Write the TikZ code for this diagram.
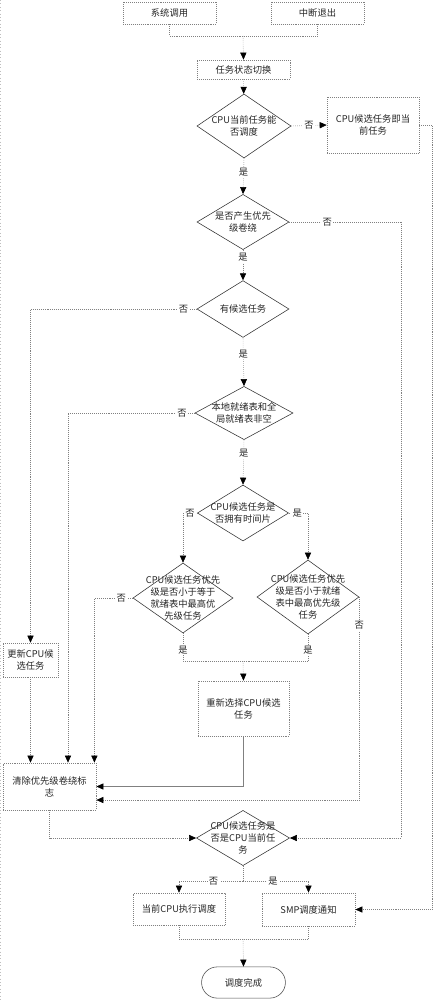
\documentclass[tikz,border=0pt]{standalone}
\usepackage{fontspec}
\setmainfont{Noto Sans CJK SC}
\usetikzlibrary{shapes.geometric, shapes.misc, arrows.meta, positioning, calc}

\begin{document}
\begin{tikzpicture}[
    x=0.025cm, y=-0.025cm,
    font=\fontsize{6.6pt}{8.6pt}\selectfont,
    box/.style={rectangle, draw=gray, densely dotted, minimum width=2.33cm, minimum height=0.55cm, align=center, text=black!85, inner sep=1pt},
    dec/.style={diamond, draw=black!80, solid, inner sep=0pt, minimum width=2.3cm, minimum height=1.4cm},
    txt/.style={align=center, text=black!85},
    term/.style={rounded rectangle, draw=black!70, minimum width=2.33cm, minimum height=0.78cm, text=black!85},
    lbl/.style={fill=white, inner sep=1pt, text=black!85},
    conn/.style={draw=gray, densely dotted},
    arr/.style={conn, -{Triangle[length=5pt, width=4.4pt, color=black]}}
]
\useasboundingbox (0,0) rectangle (435,1000);
\draw[gray!50, dotted] (0.5,0) -- (0.5,1000);

% Entry
\node[box] (sys) at (169.5,13) {系统调用};
\node[box] (irq) at (317.5,13) {中断退出};
\node[box, minimum height=0.48cm] (sw) at (243.5,69.5) {任务状态切换};

% Main checks
\node[dec, minimum width=2.35cm, minimum height=1.6cm, label={[txt]center:{CPU当前任务能\\否调度}}] (d1) at (244,126) {};
\node[box, minimum width=2.3cm, minimum height=1.4cm] (cur) at (373,125) {CPU候选任务即当\\前任务};
\node[dec, minimum height=1.38cm, label={[txt]center:{是否产生优先\\级卷绕}}] (d2) at (243,222) {};
\node[dec, minimum height=1.42cm, label={[txt]center:{有候选任务}}] (d3) at (243,309) {};
\node[dec, minimum width=2.45cm, minimum height=1.33cm, label={[txt]center:{本地就绪表和全\\局就绪表非空}}] (d4) at (244,413) {};
\node[dec, minimum width=2.28cm, label={[txt]center:{CPU候选任务是\\否拥有时间片}}] (d5) at (243,513) {};

% Priority checks
\node[dec, minimum width=2.5cm, minimum height=1.75cm, label={[txt]center:{CPU候选任务优先\\级是否小于等于\\就绪表中最高优\\先级任务}}] (d6) at (183,598) {};
\node[dec, minimum width=2.55cm, minimum height=1.85cm, label={[txt]center:{CPU候选任务优先\\级是否小于就绪\\表中最高优先级\\任务}}] (d7) at (308,597) {};

% Actions
\node[box, minimum width=1.38cm, minimum height=0.85cm] (upd) at (30.5,660) {更新CPU候\\选任务};
\node[box, minimum width=2.28cm, minimum height=1.38cm] (resel) at (243.5,708.5) {重新选择CPU候选\\任务};
\node[box, minimum height=1.18cm] (clr) at (49.5,786.5) {清除优先级卷绕标\\志};

% Final check
\node[dec, minimum width=2.33cm, minimum height=1.38cm, label={[txt]center:{CPU候选任务是\\否是CPU当前任\\务}}] (d8) at (243,838) {};
\node[box, minimum width=2.3cm, minimum height=0.8cm] (exec) at (179,909) {当前CPU执行调度};
\node[box, minimum height=0.83cm] (smp) at (308.5,909.5) {SMP调度通知};
\node[term] (done) at (243.5,982.5) {调度完成};

% Arrows
\coordinate (j1) at (243,36);
\draw[conn] (sys.south) |- (j1) -| (irq.south);
\draw[arr] (j1) -- (sw.north);
\draw[arr] (sw) -- (d1);
\draw[arr] (d1.east) -- node[lbl]{否} (cur.west);
\draw[arr] (cur.east) -- ++(13,0) |- (smp.east);
\draw[arr] (d1.south) -- node[lbl, pos=0.4]{是} (d2.north);
\draw[arr] (d2.east) -- node[lbl, pos=0.34]{否} ++(112,0) |- (d8.east);
\draw[arr] (d2.south) -- node[lbl, pos=0.25]{是} (d3.north);
\draw[arr] (d3.west) -| node[lbl, pos=0.04]{否} (upd.north);
\draw[arr] (d3.south) -- node[lbl, pos=0.33]{是} (d4.north);
\draw[arr] (d4.west) -| node[lbl, pos=0.05]{否} ($(clr.north)+(18.5,0)$);
\draw[arr] (d4.south) -- node[lbl, pos=0.3]{是} (d5.north);
\draw[arr] (d5.west) -| node[lbl, pos=0.25]{否} (d6.north);
\draw[arr] (d5.east) -| node[lbl, pos=0.22]{是} (d7.north);
\draw[arr] (d6.west) -| node[lbl, pos=0.15]{否} ($(clr.north east)+(-2,0)$);

\coordinate (j2) at (243,661);
\draw[conn] (d6.south) |- node[lbl, pos=0.3]{是} (j2);
\draw[conn] (d7.south) |- node[lbl, pos=0.3]{是} (j2);
\draw[arr] (j2) -- (resel.north);
\draw[arr, solid] (resel.south) |- (clr.east);
\draw[arr] (d7.east) |- node[lbl, pos=0.07]{否} ($(clr.east)+(0,13.5)$);
\draw[arr] (upd.south) -- (upd.south |- clr.north);
\draw[arr] (clr.south) |- (d8.west);

\coordinate (j3) at (243,881);
\draw[conn] (d8.south) -- (j3);
\draw[arr] (j3) -| node[lbl, pos=0.23]{否} (exec.north);
\draw[arr] (j3) -| node[lbl, pos=0.23]{是} (smp.north);
\coordinate (j4) at (243,939);
\draw[conn] (exec.south) |- (j4) -| (smp.south);
\draw[arr] (j4) -- (done.north);
\end{tikzpicture}
\end{document}
